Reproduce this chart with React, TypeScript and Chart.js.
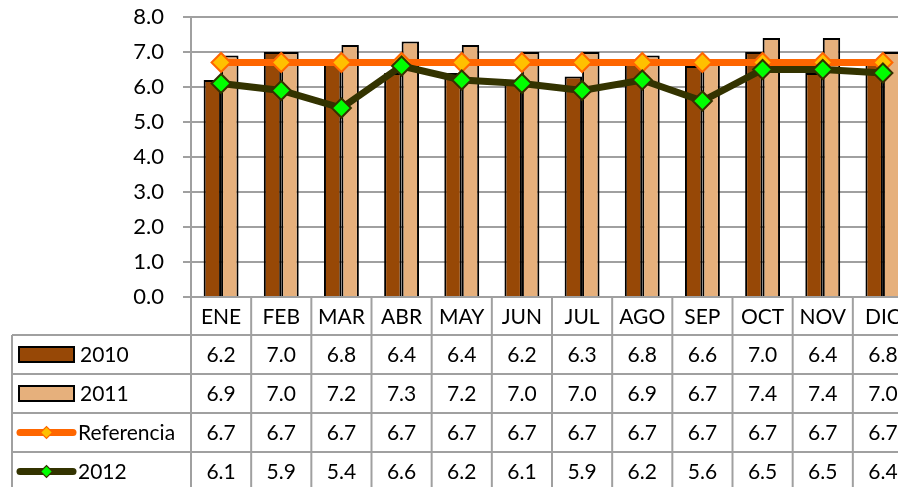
import React, { useEffect, useRef } from "react";
import { Chart, registerables } from "chart.js";

Chart.register(...registerables);

const months = ["ENE", "FEB", "MAR", "ABR", "MAY", "JUN", "JUL", "AGO", "SEP", "OCT", "NOV", "DIC"];
const serie2010 = [6.2, 7.0, 6.8, 6.4, 6.4, 6.2, 6.3, 6.8, 6.6, 7.0, 6.4, 6.8];
const serie2011 = [6.9, 7.0, 7.2, 7.3, 7.2, 7.0, 7.0, 6.9, 6.7, 7.4, 7.4, 7.0];
const referencia = [6.7, 6.7, 6.7, 6.7, 6.7, 6.7, 6.7, 6.7, 6.7, 6.7, 6.7, 6.7];
const serie2012 = [6.1, 5.9, 5.4, 6.6, 6.2, 6.1, 5.9, 6.2, 5.6, 6.5, 6.5, 6.4];
const yMin = 0;
const yMax = 8;
const yStep = 1;

const FONT = "Lato, 'Open Sans', sans-serif";
const GRID = "#a0a0a0";

const tablePlugin = {
  id: "dataTable",
  afterDraw(chart: any) {
    const { ctx, chartArea, scales } = chart;
    const x = scales.x;
    const n = months.length;
    const cw = (chartArea.right - chartArea.left) / n;
    const top = chartArea.bottom;
    const headerH = 38;
    const rowH = 39;
    const legendLeft = 12;
    const datasets = chart.data.datasets;
    const bottom = top + headerH + rowH * datasets.length;

    ctx.save();
    ctx.strokeStyle = GRID;
    ctx.lineWidth = 2;
    for (let i = 0; i <= n; i++) {
      const bx = i < n ? x.getPixelForValue(i) - cw / 2 : x.getPixelForValue(n - 1) + cw / 2;
      ctx.beginPath();
      ctx.moveTo(bx, top);
      ctx.lineTo(bx, bottom);
      ctx.stroke();
    }
    ctx.beginPath();
    ctx.moveTo(legendLeft, top + headerH);
    ctx.lineTo(legendLeft, bottom);
    ctx.stroke();
    for (let r = 0; r <= datasets.length; r++) {
      const y = top + headerH + r * rowH;
      ctx.beginPath();
      ctx.moveTo(legendLeft, y);
      ctx.lineTo(chartArea.right, y);
      ctx.stroke();
    }

    ctx.fillStyle = "#000";
    ctx.font = `21px ${FONT}`;
    ctx.textAlign = "center";
    ctx.textBaseline = "middle";
    for (let i = 0; i < n; i++) {
      ctx.fillText(months[i], x.getPixelForValue(i), top + headerH / 2 + 1);
    }
    datasets.forEach((ds: any, r: number) => {
      const cy = top + headerH + r * rowH + rowH / 2 + 1;
      ctx.textAlign = "center";
      ctx.fillStyle = "#000";
      ds.data.forEach((v: number, i: number) => {
        ctx.fillText(v.toFixed(1), x.getPixelForValue(i), cy);
      });
      const ky = cy - 1;
      if (ds.type === "bar") {
        ctx.fillStyle = ds.backgroundColor;
        ctx.fillRect(19, ky - 7.5, 55, 15);
        ctx.strokeStyle = "#000";
        ctx.lineWidth = 2;
        ctx.strokeRect(19, ky - 7.5, 55, 15);
      } else {
        ctx.strokeStyle = ds.borderColor;
        ctx.lineWidth = 7;
        ctx.lineCap = "round";
        ctx.beginPath();
        ctx.moveTo(20, ky);
        ctx.lineTo(73, ky);
        ctx.stroke();
        const d = 6;
        ctx.beginPath();
        ctx.moveTo(46.5 - d, ky);
        ctx.lineTo(46.5, ky - d);
        ctx.lineTo(46.5 + d, ky);
        ctx.lineTo(46.5, ky + d);
        ctx.closePath();
        ctx.fillStyle = ds.pointBackgroundColor;
        ctx.fill();
        ctx.strokeStyle = ds.pointBorderColor;
        ctx.lineWidth = 1.2;
        ctx.lineCap = "butt";
        ctx.stroke();
      }
      ctx.fillStyle = "#000";
      ctx.textAlign = "left";
      ctx.fillText(ds.label, ds.type === "bar" ? 80 : 78, cy);
    });
    ctx.restore();
  },
};

export default function App() {
  const ref = useRef<HTMLCanvasElement | null>(null);

  useEffect(() => {
    if (!ref.current) return;
    const chart = new Chart(ref.current, {
      type: "bar",
      data: {
        labels: months,
        datasets: [
          {
            type: "bar",
            label: "2010",
            data: serie2010,
            backgroundColor: "#974806",
            borderColor: "#000",
            borderWidth: 2,
            categoryPercentage: 0.58,
            barPercentage: 1,
            order: 2,
          },
          {
            type: "bar",
            label: "2011",
            data: serie2011,
            backgroundColor: "#E6B07C",
            borderColor: "#000",
            borderWidth: 2,
            categoryPercentage: 0.58,
            barPercentage: 1,
            order: 2,
          },
          {
            type: "line",
            label: "Referencia",
            data: referencia,
            borderColor: "#FF6600",
            borderWidth: 7,
            tension: 0,
            fill: false,
            pointStyle: "rectRot",
            pointRadius: 9.5,
            pointBackgroundColor: "#FFC000",
            pointBorderColor: "#FF6600",
            pointBorderWidth: 2,
            order: 1,
          },
          {
            type: "line",
            label: "2012",
            data: serie2012,
            borderColor: "#333300",
            borderWidth: 7,
            tension: 0,
            fill: false,
            pointStyle: "rectRot",
            pointRadius: 9.5,
            pointBackgroundColor: "#00FF00",
            pointBorderColor: "#333300",
            pointBorderWidth: 2,
            order: 0,
          },
        ] as any,
      },
      options: {
        animation: false,
        responsive: false,
        devicePixelRatio: 1,
        layout: { padding: { left: 0, top: 17, right: 17, bottom: 203 } },
        plugins: { legend: { display: false }, tooltip: { enabled: false } },
        scales: {
          x: { display: false, offset: true },
          y: {
            min: yMin,
            max: yMax,
            afterFit: (s: any) => {
              s.width = 191;
              s.paddingTop = 0;
              s.paddingBottom = 0;
            },
            ticks: {
              stepSize: yStep,
              padding: 19,
              color: "#000",
              font: { family: FONT, size: 22 },
              callback: (v: any) => Number(v).toFixed(1),
            },
            grid: { color: GRID, lineWidth: 2, tickLength: 8 },
            border: { color: GRID, width: 2 },
          },
        },
      },
      plugins: [tablePlugin],
    });
    if ((document as any).fonts && (document as any).fonts.ready) {
      (document as any).fonts.ready.then(() => chart.update());
    }
    return () => chart.destroy();
  }, []);

  return (
    <div
      style={{
        position: "fixed",
        left: 0,
        top: 0,
        width: 898,
        height: 487,
        overflow: "hidden",
        background: "#fff",
      }}
    >
      <canvas ref={ref} width={930} height={500} style={{ display: "block", width: 930, height: 500 }} />
    </div>
  );
}
